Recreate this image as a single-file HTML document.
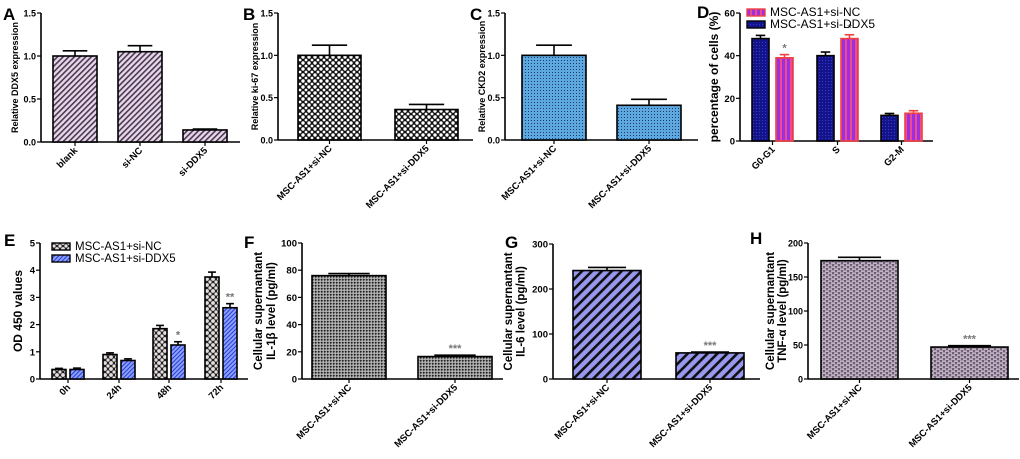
<!DOCTYPE html>
<html><head><meta charset="utf-8">
<style>
html,body{margin:0;padding:0;background:#fff;}
svg{display:block;font-family:"Liberation Sans",sans-serif;font-weight:bold;}
</style></head>
<body>
<svg id="fig" width="1020" height="459" viewBox="0 0 1020 459" xmlns="http://www.w3.org/2000/svg">
<defs>
 <pattern id="pA" width="4" height="4" patternUnits="userSpaceOnUse" patternTransform="rotate(45)"><rect width="4" height="4" fill="#e8d6ea"/><rect width="1.6" height="4" fill="#4a3a50"/></pattern>
 <pattern id="pB" width="6" height="6" patternUnits="userSpaceOnUse"><rect width="6" height="6" fill="#111"/><circle cx="3" cy="3" r="1.7" fill="#fff"/><circle cx="0" cy="0" r="1.4" fill="#fff"/><circle cx="6" cy="0" r="1.4" fill="#fff"/><circle cx="0" cy="6" r="1.4" fill="#fff"/><circle cx="6" cy="6" r="1.4" fill="#fff"/></pattern>
 <pattern id="pC" width="3" height="3" patternUnits="userSpaceOnUse"><rect width="3" height="3" fill="#5ea8e0"/><rect width="1" height="1" fill="#1a3a6a"/></pattern>
 <pattern id="pDd" width="3" height="3" patternUnits="userSpaceOnUse"><rect width="3" height="3" fill="#14148a"/><rect width="1" height="1" fill="#3a3ad0"/></pattern>
 <pattern id="pDp" width="5" height="5" patternUnits="userSpaceOnUse"><rect width="5" height="5" fill="#9a30e0"/><rect width="2" height="5" fill="#f04a8a"/></pattern>
 <pattern id="pE1" width="6" height="6" patternUnits="userSpaceOnUse"><rect width="6" height="6" fill="#222"/><circle cx="3" cy="3" r="1.9" fill="#e8e0e0"/><circle cx="0" cy="0" r="1.6" fill="#e8e0e0"/><circle cx="6" cy="0" r="1.6" fill="#e8e0e0"/><circle cx="0" cy="6" r="1.6" fill="#e8e0e0"/><circle cx="6" cy="6" r="1.6" fill="#e8e0e0"/></pattern>
 <pattern id="pE2" width="3" height="3" patternUnits="userSpaceOnUse" patternTransform="rotate(45)"><rect width="3" height="3" fill="#8aa0ff"/><rect width="1" height="3" fill="#2a3ad0"/></pattern>
 <pattern id="pF" width="3" height="3" patternUnits="userSpaceOnUse"><rect width="3" height="3" fill="#999"/><rect width="1.6" height="1.6" fill="#222"/><rect x="1.5" y="1.5" width="1" height="1" fill="#fff"/></pattern>
 <pattern id="pG" width="7" height="7" patternUnits="userSpaceOnUse" patternTransform="rotate(45)"><rect width="7" height="7" fill="#9898f0"/><rect width="2.6" height="7" fill="#111"/></pattern>
 <pattern id="pH" width="6" height="4" patternUnits="userSpaceOnUse"><rect width="6" height="4" fill="#6e5f72"/><rect x="0" y="0.5" width="4" height="1.2" fill="#e6d6ea"/><rect x="3" y="2.5" width="4" height="1.2" fill="#e6d6ea"/><rect x="-3" y="2.5" width="4" height="1.2" fill="#e6d6ea"/></pattern>
</defs>
<g id="root"></g>
</svg>
<script>
// Panel A
const aCats=["blank","si-NC","si-DDX5"];
const aVals=[1.0,1.05,0.14];
const aErr=[0.06,0.07,0.01];
const aTicks=["0.0","0.5","1.0","1.5"];
// Panel B
const bCats=["MSC-AS1+si-NC","MSC-AS1+si-DDX5"];
const bVals=[1.0,0.36];
const bErr=[0.12,0.06];
// Panel C
const cVals=[1.0,0.41];
const cErr=[0.12,0.07];
// Panel D
const dCats=["G0-G1","S","G2-M"];
const dDDX5=[48,40,12];
const dDDX5Err=[1.5,1.7,0.9];
const dNC=[39,48,13];
const dNCErr=[1.5,1.8,1.2];
const dTicks=["0","20","40","60"];
// Panel E
const eCats=["0h","24h","48h","72h"];
const eNC=[0.35,0.9,1.85,3.75];
const eNCErr=[0.04,0.06,0.12,0.18];
const eDDX5=[0.35,0.68,1.25,2.62];
const eDDX5Err=[0.05,0.06,0.12,0.15];
const eTicks=["0","1","2","3","4","5"];
// Panels F,G,H
const fVals=[76,16.5]; const fErr=[1.5,1];
const fTicks=["0","20","40","60","80","100"];
const gVals=[241,58]; const gErr=[7,2];
const gTicks=["0","100","200","300"];
const hVals=[174,47]; const hErr=[5,2];
const hTicks=["0","50","100","150","200"];

const NS="http://www.w3.org/2000/svg";
const root=document.getElementById('root');
function mk(tag,attrs,parent,txt){const e=document.createElementNS(NS,tag);for(const k in attrs)e.setAttribute(k,attrs[k]);if(txt!==undefined)e.textContent=txt;(parent||root).appendChild(e);return e;}

function panel(o){
  const g=mk('g',{});
  
  
  const max=o.max, y=v=>o.y0-(v/max)*(o.y0-o.y1);
  const ya=mk('line',{x1:o.ax,y1:o.y1,x2:o.ax,y2:o.y0,stroke:'#000','stroke-width':1.6},g);
  
  
  const xa=mk('line',{x1:o.ax,y1:o.y0,x2:o.xe,y2:o.y0,stroke:'#000','stroke-width':1.6},g);
  
  
  o.ticks.forEach((t,i)=>{
    const v=parseFloat(t), yy=y(v);
    mk('line',{x1:o.ax-4,y1:yy,x2:o.ax,y2:yy,stroke:'#000','stroke-width':1.2},g);
    const tl=mk('text',{x:o.ax-5,y:yy+3.5,'font-size':o.tfs||9.5,'text-anchor':'end'},g,t);
    
    
  });
  const L=mk('text',{x:o.lx,y:o.ly,'font-size':17},g,o.id);
  
  
  o.title.forEach((s,i)=>{
    const tx=o.tx+i*(o.tsp||0);
    const t=mk('text',{x:tx,y:(o.y0+o.y1)/2,'font-size':o.tfsz,'text-anchor':'middle',transform:`rotate(-90 ${tx} ${(o.y0+o.y1)/2})`},g,s);
    
    
  });
  o.series.forEach((s,si)=>{
    s.vals.forEach((v,i)=>{
      const x=o.bx[i]+si*o.off, w=o.bw, yy=y(v);
      const e=s.err[i], ye=y(v+e), cx=x+w/2;
      mk('line',{x1:cx,y1:yy,x2:cx,y2:ye,stroke:s.ec||'#000','stroke-width':1.6},g);
      mk('line',{x1:cx-w*0.28,y1:ye,x2:cx+w*0.28,y2:ye,stroke:s.ec||'#000','stroke-width':1.6},g);
      const r=mk('rect',{x:x,y:yy,width:w,height:o.y0-yy,fill:s.fill,stroke:s.stroke||'#000','stroke-width':1.6},g);
      
      
      if(s.star&&s.star[i]){
        const st=mk('text',{x:cx,y:ye+2,'font-size':11,'text-anchor':'middle',fill:'#777'},g,s.star[i]);
        st.setAttribute('dy','-0.1em');
        st.setAttribute('transform',`translate(0 -4)`);
        
        
      }
    });
  });
  o.cats.forEach((c,i)=>{
    const cx=o.bx[i]+(o.series.length*o.off-(o.off-o.bw))/2;
    mk('line',{x1:cx,y1:o.y0,x2:cx,y2:o.y0+4,stroke:'#000','stroke-width':1.2},g);
    const t=mk('text',{x:cx+3,y:o.y0+9,'font-size':o.xfs||9.5,'text-anchor':'end',transform:`rotate(-45 ${cx+3} ${o.y0+9})`},g,c);
    
    
  });
  return g;
}

panel({id:'A',ax:41,xe:240,y0:142,y1:13,max:1.5,ticks:aTicks,tfs:9,lx:3,ly:20,tx:18,tfsz:9,title:["Relative DDX5 expression"],
  cats:aCats,bx:[53,118,183],bw:44,off:0,series:[{vals:aVals,err:aErr,fill:'url(#pA)'}]});
panel({id:'B',ax:278,xe:473,y0:140,y1:13,max:1.5,ticks:aTicks,tfs:9,lx:243,ly:20,tx:258,tfsz:9,title:["Relative ki-67 expression"],
  cats:bCats,bx:[298,395],bw:63,off:0,series:[{vals:bVals,err:bErr,fill:'url(#pB)'}]});
panel({id:'C',ax:505,xe:698,y0:140,y1:13,max:1.5,ticks:aTicks,tfs:9,lx:470,ly:20,tx:485,tfsz:9,title:["Relative CKD2 expression"],
  cats:bCats,bx:[522,617],bw:64,off:0,series:[{vals:cVals,err:cErr,fill:'url(#pC)'}]});
panel({id:'D',ax:740,xe:933,y0:141,y1:13,max:60,ticks:dTicks,lx:697,ly:18,tx:718,tfsz:12,title:["percentage of cells (%)"],
  cats:dCats,bx:[752,817,881],bw:17,off:24,series:[
   {vals:dDDX5,err:dDDX5Err,fill:'url(#pDd)'},
   {vals:dNC,err:dNCErr,fill:'url(#pDp)',stroke:'#f04040',ec:'#f04040',star:['*','*','']}]});
panel({id:'E',ax:40,xe:248,y0:379,y1:243,max:5,ticks:eTicks,lx:4,ly:246,tx:22,tfsz:12,title:["OD 450 values"],
  cats:eCats,bx:[52,103,153,205],bw:14,off:18,series:[
   {vals:eNC,err:eNCErr,fill:'url(#pE1)'},
   {vals:eDDX5,err:eDDX5Err,fill:'url(#pE2)',star:['','','*','**']}]});
panel({id:'F',ax:302,xe:503,y0:379,y1:243,max:100,ticks:fTicks,lx:244,ly:248,tx:262,tsp:13,tfsz:11.5,title:["Cellular supernantant","IL-1β level (pg/ml)"],
  cats:bCats,bx:[312,418],bw:74,off:0,series:[{vals:fVals,err:fErr,fill:'url(#pF)',star:['','***']}]});
panel({id:'G',ax:553,xe:760,y0:379,y1:244,max:300,ticks:gTicks,lx:505,ly:248,tx:512,tsp:12.5,tfsz:11.5,title:["Cellular supernantant","IL-6 level (pg/ml)"],
  cats:bCats,bx:[573,676],bw:68,off:0,series:[{vals:gVals,err:gErr,fill:'url(#pG)',star:['','***']}]});
panel({id:'H',ax:808,xe:1019,y0:379,y1:243,max:200,ticks:hTicks,tfs:9,lx:750,ly:244,tx:774,tsp:12,tfsz:11.5,title:["Cellular supernantant","TNF-α level (pg/ml)"],
  cats:bCats,bx:[821,931],bw:77,off:0,series:[{vals:hVals,err:hErr,fill:'url(#pH)',star:['','***']}]});

function legend(x,y,fill,stroke,label,fs){
  const g=mk('g',{});
  
  
  mk('rect',{x:x,y:y,width:18,height:7,fill:fill,stroke:stroke,'stroke-width':1.4},g);
  mk('text',{x:x+23,y:y+7,'font-size':fs,'font-weight':'normal'},g,label);
}
legend(747,9,'url(#pDp)','#f04040','MSC-AS1+si-NC',12);
legend(747,21,'url(#pDd)','#000','MSC-AS1+si-DDX5',12);
legend(52,243,'url(#pE1)','#000','MSC-AS1+si-NC',11.5);
legend(52,255,'url(#pE2)','#000','MSC-AS1+si-DDX5',11.5);
</script>
</body></html>
